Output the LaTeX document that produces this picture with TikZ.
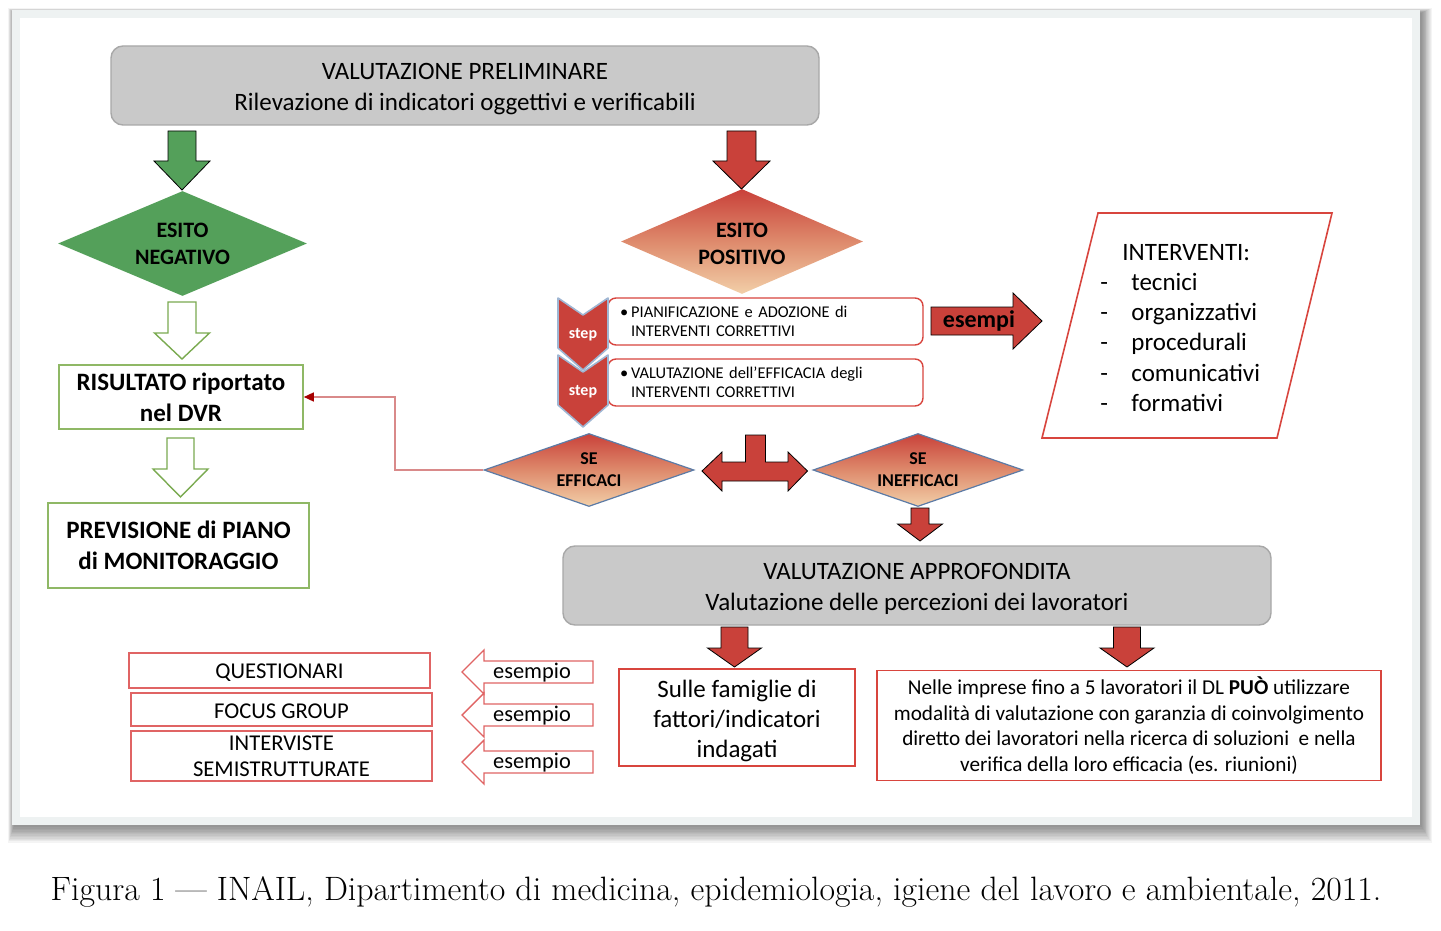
\documentclass[tikz,border=0pt]{standalone}
\usepackage{fontspec}
\setsansfont{Carlito}
\usepackage{tikz}
\usetikzlibrary{arrows.meta, shapes.geometric, positioning}

\definecolor{redfill}{HTML}{C9413A}
\definecolor{peach}{HTML}{F2CFA8}
\definecolor{midpeach}{HTML}{DE8A6C}
\definecolor{greenfill}{HTML}{54A05A}
\definecolor{greenbord}{HTML}{8FB865}
\definecolor{greenarrow}{HTML}{7AAA50}
\definecolor{redbord}{HTML}{D8453E}
\definecolor{listbord}{HTML}{E06464}
\definecolor{grayfill}{HTML}{C9C9C9}
\definecolor{graybord}{HTML}{A8A8A8}
\definecolor{steel}{HTML}{5C7BA6}
\definecolor{chevbord}{HTML}{9FB6D3}
\definecolor{connred}{HTML}{D98A8A}
\definecolor{framegray}{HTML}{EEF2F2}

\newcommand{\fs}[2]{\fontsize{#1}{#2}\selectfont}
% block arrow pointing down: style, x, ytop, yhead, ytip, shaft half, head half
\newcommand{\blkdown}[7]{%
  \draw[#1] ({#2-#6},#3) -- ({#2+#6},#3) -- ({#2+#6},#4) -- ({#2+#7},#4)
    -- (#2,#5) -- ({#2-#7},#4) -- ({#2-#6},#4) -- cycle;}

\begin{document}
\begin{tikzpicture}[x=0.5pt, y=-0.5pt, font=\sffamily,
    graybox/.style={draw=graybord, fill=grayfill, rounded corners=6pt, line width=0.7pt,
      inner sep=0pt, minimum width=354pt, minimum height=39.5pt},
    graytxt/.style={align=center, yshift=-1.8pt, font=\sffamily\fs{12.5}{15.5}},
    greenbox/.style={draw=greenbord, line width=0.8pt, align=center, inner sep=0pt,
      font=\sffamily\bfseries\fs{12.5}{15.5}},
    redbox/.style={draw=redbord, fill=white, line width=0.8pt, align=center, inner sep=0pt},
    listbox/.style={redbox, draw=listbord, font=\sffamily\fs{11.3}{13},
      execute at begin node={\rule{0pt}{9.5pt}}},
    stepbox/.style={draw=redbord, fill=white, rounded corners=4pt, line width=0.7pt,
      align=left, inner xsep=6pt, text width=145.5pt, font=\sffamily\fs{8.2}{9.5}},
    steplabel/.style={text=white, font=\sffamily\bfseries\fs{8}{9}},
    solidgreen/.style={fill=greenfill},
    solidred/.style={fill=redfill},
    hollowgreen/.style={draw=greenarrow, fill=white, line width=0.7pt},
    hollowred/.style={draw=listbord, fill=white, line width=0.7pt},
    chevron/.style={fill=redfill, draw=chevbord, line width=0.8pt, line join=round},
    gradiamond/.style={diamond, top color=redfill, bottom color=peach, middle color=midpeach,
      inner sep=0pt},
    decision/.style={gradiamond, draw=steel, line width=0.6pt,
      minimum width=105pt, minimum height=36.5pt},
    esitotxt/.style={align=center, font=\sffamily\bfseries\fs{11}{13.5}},
    decisiontxt/.style={align=center, font=\sffamily\bfseries\fs{9}{11}},
    listtxt/.style={anchor=base west, inner sep=0pt, font=\sffamily\fs{12.5}{15}},
    conn/.style={draw=connred, line width=0.7pt}]

  \useasboundingbox (0,0) rectangle (1441,931);

  % frame with shadow
  \foreach \k in {1,...,12}
    \fill[black, opacity=0.045] ({14-0.5*\k},{13-0.4*\k}) rectangle ({1421+0.9*\k},{826+1.4*\k});
  \fill[framegray] (12,10) rectangle (1420,825);
  \fill[white] (20,18) rectangle (1412,817);

  % top
  \node[graybox, label={[graytxt]center:VALUTAZIONE PRELIMINARE\\Rilevazione di indicatori oggettivi e verificabili}]
    (prelim) at (465,85.5) {};

  \blkdown{solidgreen}{182}{131}{161}{190}{14}{28}
  \blkdown{solidred}{741.5}{131}{161}{189}{14.5}{28.5}

  \node[diamond, fill=greenfill, inner sep=0pt, minimum width=124.5pt, minimum height=52.5pt,
    label={[esitotxt]center:ESITO\\NEGATIVO}] (negativo) at (182.5,243.5) {};
  \node[gradiamond, minimum width=121pt, minimum height=52.5pt,
    label={[esitotxt, yshift=-1pt]center:ESITO\\POSITIVO}] (positivo) at (742,241.5) {};

  % left column
  \blkdown{hollowgreen}{182}{302}{333}{359}{14}{27.5}
  \node[greenbox, minimum width=122pt, minimum height=32pt] (risultato) at (181,397)
    {RISULTATO riportato\\nel DVR};
  \blkdown{hollowgreen}{180.5}{438}{469}{497}{13.5}{27.5}
  \node[greenbox, minimum width=130.5pt, minimum height=42.5pt] (previsione) at (178.5,545.5)
    {PREVISIONE di PIANO\\di MONITORAGGIO};

  % steps
  \node[stepbox, minimum width=157.5pt, minimum height=23.5pt] (pianif) at (765.5,321.5)
    {\textbullet\hspace{1.5pt}PIANIFICAZIONE e ADOZIONE di\\\phantom{\textbullet}\hspace{1.5pt}INTERVENTI CORRETTIVI};
  \node[stepbox, minimum width=157.5pt, minimum height=23.5pt] (verifica) at (765.5,382.5)
    {\textbullet\hspace{1.5pt}VALUTAZIONE dell’EFFICACIA degli\\\phantom{\textbullet}\hspace{1.5pt}INTERVENTI CORRETTIVI};
  \foreach \y [count=\i] in {298,355} {
    \draw[chevron] (558,\y) -- (583,\y+17) -- (608,\y) -- (608,\y+50) -- (583,\y+72) -- (558,\y+50) -- cycle;
    \node[steplabel] (step\i) at (583,\y+37) {step};
  }

  % esempi arrow
  \draw[solidred] (931,307) -- (1013,307) -- (1013,293) -- (1042,321) -- (1013,349) -- (1013,335) -- (931,335) -- cycle;
  \node[font=\sffamily\bfseries\fs{12}{14}] (esempi) at (979,321) {esempi};

  % interventi
  \draw[draw=redbord, line width=0.8pt] (1098,213) -- (1332,213) -- (1277,438) -- (1042,438) -- cycle;
  \node[listtxt] (intertitle) at (1122,260) {INTERVENTI:};
  \foreach \y/\word in {282/tecnici, 312/organizzativi, 342/procedurali, 373/comunicativi, 403/formativi} {
    \node[listtxt] (dash\y) at (1100,\y+8) {-};
    \node[listtxt] (item\y) at (1131,\y+8) {\word};
  }

  % decisions
  \node[decision, label={[decisiontxt]center:SE\\EFFICACI}] (efficaci) at (589,470) {};
  \node[decision, label={[decisiontxt]center:SE\\INEFFICACI}] (inefficaci) at (918,470) {};
  \draw[solidred] (702,471) -- (722,452) -- (722,462) -- (745.5,462) -- (745.5,435) -- (765.5,435)
    -- (765.5,462) -- (788,462) -- (788,452) -- (807.5,471) -- (788,491) -- (788,481) -- (722,481)
    -- (722,491) -- cycle;
  \draw[conn, -{Triangle[length=5pt, width=4.5pt, color=red!65!black]}]
    (efficaci.west) -- (395,470) |- (risultato.east);

  \blkdown{solidred}{920}{508}{524}{541}{9}{22.5}

  % bottom
  \node[graybox, label={[graytxt]center:VALUTAZIONE APPROFONDITA\\Valutazione delle percezioni dei lavoratori}]
    (approf) at (917,585.5) {};
  \blkdown{solidred}{734.5}{627}{648}{667}{13.5}{27}
  \blkdown{solidred}{1127}{627}{648}{667}{13.5}{27}

  \node[redbox, minimum width=118pt, minimum height=48.5pt, font=\sffamily\fs{12.5}{15}] (sulle) at (737,717.5)
    {\rule{0pt}{12.5pt}Sulle famiglie di\\fattori/indicatori\\indagati};
  \node[redbox, minimum width=252pt, minimum height=55pt, font=\sffamily\fs{10.6}{12.75}] (nelle) at (1129,725.5)
    {Nelle imprese fino a 5 lavoratori il DL \textbf{PUÒ} utilizzare\\
     modalità di valutazione con garanzia di coinvolgimento\\
     diretto dei lavoratori nella ricerca di soluzioni~ e nella\\
     verifica della loro efficacia (es. riunioni)};

  \node[listbox, minimum width=150.5pt, minimum height=17.5pt] (questionari) at (279.5,670.5) {QUESTIONARI};
  \node[listbox, minimum width=150.5pt, minimum height=16.5pt] (focus) at (281.5,709.5) {FOCUS GROUP};
  \node[listbox, minimum width=150.5pt, minimum height=25pt] (interviste) at (281.5,756)
    {INTERVISTE\\SEMISTRUTTURATE};

  \foreach \y [count=\i] in {672,715,762} {
    \draw[hollowred] (593,\y-11) -- (484,\y-11) -- (484,\y-22) -- (462,\y) -- (484,\y+22)
      -- (484,\y+11) -- (593,\y+11) -- cycle;
    \node[anchor=base, inner sep=0pt, font=\sffamily\fs{11.2}{13}] (esempio\i) at (532,\y+6) {esempio};
  }

  % caption
  \node[font=\rmfamily\fs{16.9}{19}] (caption) at (716,892)
    {Figura 1 — INAIL, Dipartimento di medicina, epidemiologia, igiene del lavoro e ambientale, 2011.};
\end{tikzpicture}
\end{document}
